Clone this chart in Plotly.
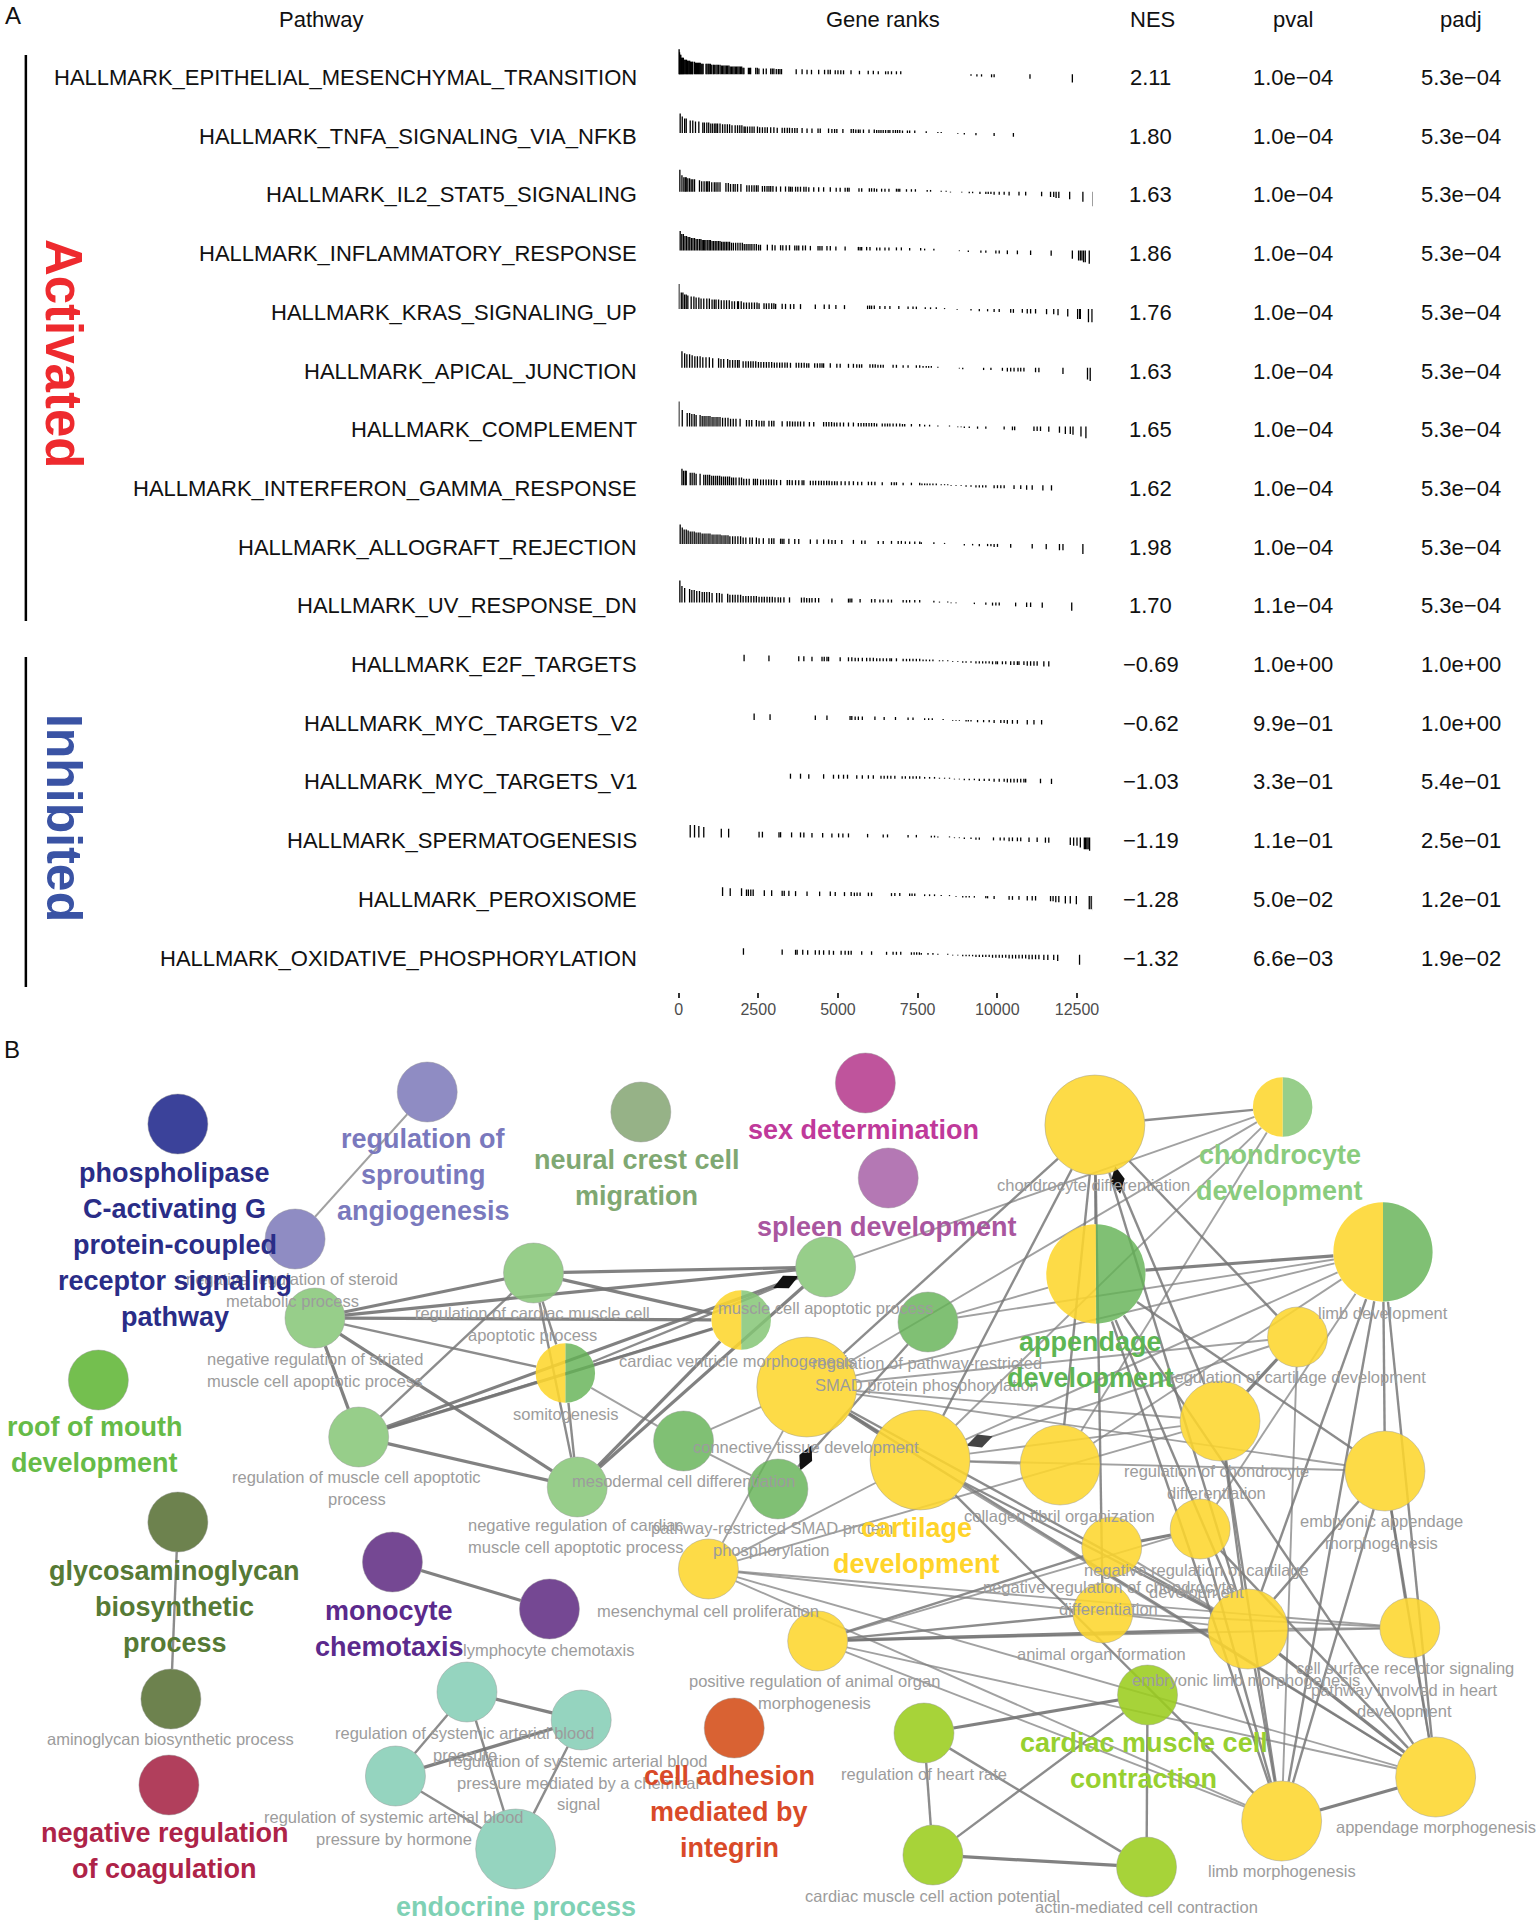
import numpy as np
import plotly.graph_objects as go

# Panel A: pathways and fgsea table values
pathways = ["HALLMARK_EPITHELIAL_MESENCHYMAL_TRANSITION", "HALLMARK_TNFA_SIGNALING_VIA_NFKB",
            "HALLMARK_IL2_STAT5_SIGNALING", "HALLMARK_INFLAMMATORY_RESPONSE", "HALLMARK_KRAS_SIGNALING_UP",
            "HALLMARK_APICAL_JUNCTION", "HALLMARK_COMPLEMENT", "HALLMARK_INTERFERON_GAMMA_RESPONSE",
            "HALLMARK_ALLOGRAFT_REJECTION", "HALLMARK_UV_RESPONSE_DN", "HALLMARK_E2F_TARGETS",
            "HALLMARK_MYC_TARGETS_V2", "HALLMARK_MYC_TARGETS_V1", "HALLMARK_SPERMATOGENESIS",
            "HALLMARK_PEROXISOME", "HALLMARK_OXIDATIVE_PHOSPHORYLATION"]
nes = ["2.11", "1.80", "1.63", "1.86", "1.76", "1.63", "1.65", "1.62", "1.98", "1.70",
       "−0.69", "−0.62", "−1.03", "−1.19", "−1.28", "−1.32"]
pval = ["1.0e−04"] * 9 + ["1.1e−04", "1.0e+00", "9.9e−01", "3.3e−01", "1.1e−01", "5.0e−02", "6.6e−03"]
padj = ["5.3e−04"] * 10 + ["1.0e+00", "1.0e+00", "5.4e−01", "2.5e−01", "1.2e−01", "1.9e−02"]

# Shared ranking statistic, read as steps: rank upper limit -> stat
stat_rank = [15, 40, 80, 150, 250, 350, 500, 700, 1000, 1300, 1600, 2000, 2500, 3000, 3500, 4000, 4800, 5500,
             6200, 7000, 7600, 8100, 8500, 8900, 9300, 9800, 10300, 10900, 11400, 11800, 12100, 12300, 12500,
             12700, 12850, 13000, 13100]
stat_value = [1.0, .88, .78, .66, .58, .54, .5, .46, .42, .38, .35, .31, .26, .23, .21, .2, .18, .16,
              .14, .12, .1, .07, .04, -.03, -.06, -.09, -.12, -.15, -.18, -.21, -.25, -.3, -.33,
              -.4, -.47, -.53, -.58]

# Gene positions in the ranked list, one list per pathway
ranks_emt = [0, 15, 30, 50, 70, 90, 110, 130, 150, 175, 200, 225, 250, 275, 300, 325, 350, 375, 400, 430, 445, 500, 530,
             560, 590, 620, 650, 680, 710, 740, 770, 860, 890, 930, 960, 1000, 1040, 1090, 1120, 1170, 1210, 1250, 1300,
             1340, 1380, 1420, 1460, 1500, 1540, 1580, 1620, 1660, 1700, 1740, 1780, 1820, 1860, 1900, 1940, 1980, 2020,
             2050, 2190, 2230, 2260, 2420, 2470, 2520, 2660, 2750, 2890, 2940, 2990, 3065, 3130, 3180, 3230, 3690, 3875,
             4030, 4170, 4395, 4580, 4690, 4760, 4915, 5000, 5090, 5175, 5410, 5675, 5950, 6110, 6265, 6495, 6575, 6680,
             6835, 6970, 9175, 9360, 9505, 9820, 9900, 11025, 12355]
ranks_tnfa = [50, 115, 190, 240, 365, 445, 530, 635, 760, 810, 885, 945, 1010, 1070, 1135, 1175, 1225, 1300, 1380, 1455,
              1530, 1600, 1675, 1775, 1850, 1920, 1985, 2055, 2090, 2160, 2235, 2305, 2370, 2475, 2545, 2630, 2710, 2785,
              2890, 2990, 3095, 3250, 3325, 3410, 3480, 3565, 3645, 3720, 3875, 4030, 4185, 4375, 4445, 4705, 4810, 4895,
              4965, 5155, 5415, 5485, 5560, 5640, 5695, 5800, 5975, 6140, 6215, 6285, 6350, 6420, 6495, 6575, 6630, 6730,
              6805, 6870, 6940, 7025, 7180, 7250, 7410, 7770, 8135, 8240, 8760, 8965, 9330, 9900, 10505]
ranks_il2 = [40, 105, 165, 210, 240, 290, 345, 395, 445, 500, 655, 725, 800, 870, 915, 965, 1040, 1120, 1175, 1235, 1300,
             1485, 1560, 1630, 1715, 1775, 1850, 1955, 2140, 2215, 2295, 2370, 2440, 2495, 2630, 2700, 2775, 2835, 2890,
             2960, 3065, 3200, 3355, 3460, 3510, 3565, 3670, 3740, 3825, 3930, 4000, 4085, 4240, 4395, 4550, 4760, 4945,
             5070, 5225, 5300, 5350, 5660, 5745, 5985, 6055, 6140, 6215, 6370, 6475, 6600, 6835, 6890, 6940, 7150, 7305,
             7430, 7800, 7905, 8240, 8395, 8530, 8885, 9120, 9225, 9455, 9640, 9715, 9800, 9900, 10060, 10215, 10370,
             10680, 10890, 11390, 11670, 11770, 11845, 11930, 12270, 12685, 13010]
ranks_inflam = [50, 100, 150, 200, 250, 300, 350, 400, 450, 500, 550, 600, 655, 700, 740, 780, 820, 860, 915, 960, 1000,
                1050, 1100, 1150, 1200, 1250, 1300, 1350, 1400, 1450, 1500, 1550, 1600, 1660, 1720, 1790, 1860, 1930,
                2000, 2060, 2120, 2180, 2240, 2300, 2370, 2440, 2510, 2570, 2785, 2940, 3025, 3200, 3270, 3375, 3480,
                3645, 3710, 3770, 3895, 3980, 4135, 4375, 4435, 4500, 4655, 4760, 4935, 5225, 5640, 5695, 5745, 5900,
                6005, 6215, 6315, 6475, 6600, 6835, 6990, 7250, 7595, 7720, 8010, 8810, 9090, 9485, 9640, 9955, 10060,
                10315, 10630, 11045, 11690, 12355, 12550, 12605, 12655, 12705, 12760, 12885]
ranks_kras = [10, 85, 135, 190, 240, 290, 395, 480, 550, 635, 705, 790, 885, 965, 1050, 1120, 1175, 1255, 1340, 1425,
              1505, 1590, 1675, 1755, 1850, 1880, 1965, 2045, 2130, 2215, 2295, 2380, 2460, 2525, 2680, 2755, 2835, 2920,
              2990, 3045, 3250, 3355, 3510, 3615, 3825, 4290, 4570, 4725, 4935, 5205, 5930, 5995, 6055, 6140, 6315, 6475,
              6630, 6910, 7200, 7355, 7460, 7740, 7905, 8085, 8345, 8740, 9175, 9435, 9695, 9900, 10060, 10420, 10505,
              10785, 10940, 11045, 11200, 11545, 11770, 11905, 12210, 12520, 12585, 12605, 12860, 12970]
ranks_apical = [105, 190, 260, 345, 425, 510, 590, 675, 760, 860, 965, 1070, 1255, 1330, 1415, 1540, 1610, 1695, 1775,
                1850, 1900, 2025, 2110, 2190, 2265, 2340, 2420, 2505, 2585, 2670, 2755, 2835, 2920, 3005, 3085, 3170,
                3250, 3335, 3410, 3510, 3690, 3770, 3855, 3940, 4020, 4085, 4270, 4355, 4435, 4500, 4550, 4760, 4965,
                5070, 5330, 5485, 5590, 5675, 5745, 6005, 6090, 6170, 6255, 6340, 6420, 6730, 6835, 7045, 7200, 7460,
                7565, 7670, 7770, 7845, 7930, 8135, 8810, 8915, 9570, 9800, 10160, 10315, 10420, 10525, 10650, 10735,
                10835, 11200, 11305, 12060, 12830, 12915]
ranks_complement = [10, 115, 270, 345, 415, 490, 550, 675, 740, 800, 860, 925, 985, 1050, 1110, 1175, 1235, 1300, 1380,
                    1465, 1550, 1630, 1715, 1800, 1930, 2130, 2215, 2295, 2440, 2525, 2610, 2680, 2835, 2920, 2990, 3250,
                    3410, 3490, 3575, 3655, 3740, 3825, 3930, 4105, 4240, 4550, 4635, 4715, 4800, 4885, 4965, 5070, 5175,
                    5330, 5485, 5640, 5725, 5810, 5890, 5975, 6055, 6140, 6215, 6390, 6475, 6555, 6630, 6730, 6835, 6940,
                    7025, 7095, 7305, 7565, 7720, 7875, 8135, 8500, 8760, 8865, 8965, 9120, 9380, 9640, 10215, 10475,
                    10545, 11150, 11250, 11355, 11615, 11950, 12135, 12290, 12375, 12625, 12780]
ranks_ifng = [105, 155, 210, 240, 365, 425, 490, 550, 675, 790, 850, 915, 975, 1040, 1100, 1165, 1225, 1290, 1350, 1415,
              1475, 1540, 1600, 1665, 1725, 1800, 1900, 1975, 2045, 2130, 2215, 2350, 2410, 2475, 2575, 2660, 2745, 2825,
              2910, 2990, 3075, 3200, 3410, 3480, 3565, 3670, 3770, 3875, 3930, 4135, 4220, 4300, 4395, 4480, 4560, 4645,
              4725, 4810, 4895, 4975, 5100, 5225, 5350, 5485, 5620, 5745, 5955, 6055, 6160, 6390, 6680, 6765, 6835, 7045,
              7305, 7565, 7635, 7720, 7800, 7885, 7980, 8085, 8240, 8345, 8445, 8550, 8705, 8865, 9020, 9175, 9330, 9435,
              9540, 9640, 9900, 10005, 10110, 10215, 10525, 10735, 10920, 11095, 11430, 11700]
ranks_allograft = [50, 115, 175, 240, 300, 365, 425, 490, 550, 615, 675, 740, 800, 860, 925, 985, 1050, 1110, 1175, 1235,
                   1300, 1360, 1425, 1485, 1550, 1610, 1695, 1775, 1860, 1945, 2025, 2110, 2235, 2315, 2440, 2525, 2660,
                   2835, 2920, 2990, 3200, 3250, 3305, 3460, 3645, 3770, 4135, 4345, 4550, 4705, 4810, 4915, 5120, 5485,
                   5745, 5850, 6265, 6420, 6680, 6890, 6990, 7115, 7250, 7410, 7565, 7615, 8010, 8345, 8965, 9225, 9435,
                   9695, 9800, 9900, 10005, 10420, 11095, 11535, 11950, 12060, 12685]
ranks_uv = [40, 105, 190, 345, 415, 490, 570, 655, 740, 810, 885, 965, 1050, 1195, 1280, 1360, 1540, 1610, 1695, 1775,
            1860, 1945, 2025, 2110, 2190, 2275, 2360, 2440, 2525, 2610, 2690, 2775, 2855, 2940, 3025, 3125, 3200, 3305,
            3480, 3855, 3940, 4020, 4105, 4185, 4290, 4395, 4810, 5330, 5380, 5435, 5695, 6055, 6160, 6315, 6420, 6575,
            6680, 7045, 7150, 7250, 7410, 7565, 8010, 8185, 8445, 8550, 8705, 9280, 9640, 9850, 9955, 10060, 10575,
            10920, 11045, 11410, 12335]
ranks_e2f = [2055, 2835, 3770, 3930, 4185, 4500, 4570, 4655, 4705, 5070, 5330, 5435, 5540, 5640, 5765, 5900, 6005, 6110,
             6215, 6315, 6420, 6525, 6630, 6680, 6835, 7045, 7150, 7250, 7355, 7460, 7565, 7670, 7770, 7875, 7980, 8185,
             8290, 8445, 8600, 8760, 8915, 9020, 9175, 9330, 9435, 9540, 9640, 9745, 9850, 9955, 10005, 10160, 10265,
             10420, 10525, 10630, 10680, 10835, 10940, 11045, 11150, 11250, 11460, 11615]
ranks_mycv2 = [2370, 2870, 4290, 4655, 5380, 5435, 5540, 5640, 5765, 6160, 6450, 6805, 7200, 7355, 7720, 7845, 7960,
               8300, 8600, 8705, 8810, 9020, 9090, 9175, 9380, 9570, 9745, 9900, 10110, 10215, 10315, 10475, 10630,
               10940, 11150, 11390]
ranks_mycv1 = [3510, 3825, 4085, 4550, 4860, 5020, 5175, 5300, 5590, 5765, 5955, 6110, 6350, 6450, 6555, 6660, 6785,
               7015, 7115, 7250, 7355, 7460, 7565, 7720, 7875, 8030, 8185, 8345, 8500, 8655, 8810, 8965, 9120, 9280,
               9435, 9590, 9745, 9900, 10060, 10215, 10315, 10420, 10525, 10630, 10735, 10835, 10890, 11355, 11700]
ranks_sperm = [365, 500, 635, 790, 1340, 1570, 2525, 2630, 3150, 3200, 3545, 3825, 3930, 4185, 4520, 4810, 5020, 5155,
               5330, 5930, 6420, 6555, 7200, 7460, 7930, 8030, 8135, 8500, 8655, 8810, 8965, 9175, 9330, 9435, 9880,
               10090, 10215, 10370, 10475, 10630, 10735, 10995, 11250, 11510, 11615, 12290, 12395, 12500, 12605, 12730,
               12770, 12810, 12850, 12895]
ranks_perox = [1380, 1620, 1975, 2130, 2190, 2265, 2340, 2690, 2920, 3250, 3315, 3460, 3670, 4030, 4425, 4760, 4915,
               5205, 5415, 5515, 5600, 5695, 5955, 6055, 6680, 6785, 6940, 7250, 7325, 7410, 7720, 7875, 8030, 8240,
               8500, 8705, 8915, 9020, 9120, 9280, 9640, 9695, 9900, 10370, 10475, 10680, 10940, 11095, 11200, 11670,
               11750, 11835, 11930, 12135, 12290, 12480, 12885, 12945, 13020]
ranks_oxphos = [2035, 3250, 3670, 3720, 3895, 4050, 4290, 4415, 4550, 4725, 4860, 5100, 5225, 5330, 5415, 5745, 6055,
                6525, 6730, 6835, 6970, 7305, 7390, 7470, 7555, 7615, 7825, 7980, 8135, 8445, 8600, 8760, 8915, 9020,
                9120, 9225, 9330, 9435, 9540, 9640, 9745, 9850, 9955, 10060, 10160, 10265, 10370, 10475, 10575, 10680,
                10785, 10890, 10995, 11095, 11200, 11305, 11460, 11585, 11770, 11895, 12580]
gene_ranks = [ranks_emt, ranks_tnfa, ranks_il2, ranks_inflam, ranks_kras, ranks_apical, ranks_complement, ranks_ifng,
              ranks_allograft, ranks_uv, ranks_e2f, ranks_mycv2, ranks_mycv1, ranks_sperm, ranks_perox, ranks_oxphos]
rank_ticks = [0, 2500, 5000, 7500, 10000, 12500]

# Panel B: network nodes
node_names = ["phospho", "sprout1", "sprout2", "neural", "roof", "sex", "spleen", "striated", "cardiac_apop", "muscle_apop",
              "reg_muscle", "neg_cardiac", "connective_g", "mesoderm", "pathway", "chond_diff", "reg_cart", "connective",
              "cartilage", "collagen", "reg_chond", "embryonic", "neg_cart", "neg_chond", "animal", "limb_morph2", "csr", "pos_reg",
              "mesench", "app_morph", "limb_morph", "cmc", "heart_rate", "action", "actin", "glyco", "amino", "coag",
              "monocyte", "lymphocyte", "teal1", "teal2", "teal3", "teal4", "adhesion"]
node_x = [175, 426, 293, 641, 95, 867, 890, 313, 533, 827, 357, 577, 684, 779, 930, 1098, 1302, 808, 922, 1063, 1224,
          1390, 1204, 1115, 1106, 1252, 1415, 819, 709, 1441, 1286, 1151, 926, 935, 1150, 175, 168, 166, 391, 549, 466, 581,
          394, 515, 735]
node_y = [1124, 1092, 1239, 1112, 1380, 1083, 1178, 1318, 1273, 1267, 1437, 1487, 1441, 1489, 1322, 1125, 1337, 1387,
          1460, 1465, 1421, 1471, 1529, 1547, 1613, 1629, 1628, 1641, 1569, 1777, 1821, 1695, 1733, 1855, 1867, 1522, 1699,
          1785, 1562, 1609, 1692, 1720, 1776, 1849, 1728]
node_size = [60, 60, 60, 60, 60, 60, 60, 60, 60, 60, 60, 60, 60, 60, 60, 100, 60, 100, 100, 80, 80, 80, 60, 60, 60, 80,
             60, 60, 60, 80, 80, 60, 60, 60, 60, 60, 60, 60, 60, 60, 60, 60, 60, 80, 60]
yellow = "rgba(253,214,45,0.88)"
lgreen = "rgba(133,198,118,0.85)"
green = "rgba(100,178,85,0.82)"
lime = "rgba(155,205,30,0.88)"
teal = "rgba(130,205,180,0.85)"
node_color = ["#3b429a", "#8f8cc3", "#8f8cc3", "#96b287", "#74bf4f", "#bf549c", "#b478b4", lgreen, lgreen, lgreen, lgreen,
              lgreen, green, green, green, yellow, yellow, yellow, yellow, yellow, yellow, yellow, yellow, yellow,
              yellow, yellow, yellow, yellow, yellow, yellow, yellow, lime, lime, lime, lime, "#6d824e", "#6d824e", "#b13f5c",
              "#754893", "#754893", teal, teal, teal, teal, "#d96233"]

# Half and half nodes: name, x, y, size, right colour
half_names = ["ventricle", "somito", "chond_dev", "app_dev", "limb_dev"]
half_x = [742, 565, 1287, 1099, 1388]
half_y = [1320, 1373, 1107, 1274, 1252]
half_size = [60, 60, 60, 100, 100]
half_color = [lgreen, green, lgreen, green, green]

edges_thick = [("monocyte", "lymphocyte"), ("striated", "muscle_apop"), ("striated", "ventricle"), ("striated", "cardiac_apop"),
               ("cardiac_apop", "muscle_apop"), ("reg_muscle", "ventricle"), ("reg_muscle", "muscle_apop"), ("reg_muscle", "neg_cardiac"),
               ("striated", "reg_muscle"), ("striated", "neg_cardiac"), ("cardiac_apop", "ventricle"), ("neg_cardiac", "ventricle"),
               ("neg_cardiac", "muscle_apop"), ("app_dev", "limb_dev"), ("neg_chond", "neg_cart"), ("limb_morph", "app_morph"),
               ("pos_reg", "limb_morph2"), ("heart_rate", "cmc"), ("action", "actin"), ("teal1", "teal2"), ("teal3", "teal2"),
               ("connective", "cartilage"), ("reg_cart", "reg_chond"), ("limb_morph2", "app_morph")]
edges_mid = [("chond_diff", "chond_dev"), ("chond_diff", "app_dev"), ("chond_diff", "reg_cart"), ("chond_diff", "limb_morph2"),
             ("chond_diff", "cartilage"), ("chond_diff", "connective"), ("chond_diff", "collagen"), ("chond_diff", "animal"),
             ("chond_diff", "reg_chond"), ("app_dev", "embryonic"), ("app_dev", "limb_morph2"), ("app_dev", "limb_morph"),
             ("app_dev", "app_morph"), ("limb_dev", "embryonic"), ("limb_dev", "limb_morph"), ("limb_dev", "app_morph"),
             ("limb_dev", "limb_morph2"), ("embryonic", "limb_morph"), ("embryonic", "app_morph"), ("embryonic", "csr"),
             ("embryonic", "limb_morph2"), ("neg_cart", "limb_morph"), ("neg_cart", "app_morph"), ("limb_morph2", "limb_morph"),
             ("reg_chond", "limb_morph2"), ("reg_chond", "limb_morph"), ("connective", "limb_morph2"), ("connective", "app_morph"),
             ("cartilage", "limb_morph2"), ("cartilage", "limb_morph"), ("pos_reg", "neg_chond"), ("pos_reg", "animal"),
             ("heart_rate", "actin"), ("heart_rate", "action"), ("cmc", "action"), ("cmc", "actin"), ("teal1", "teal3"),
             ("teal1", "teal4"), ("teal2", "teal4"), ("teal3", "teal4"), ("glyco", "amino"), ("somito", "neg_cardiac"),
             ("somito", "muscle_apop"), ("somito", "cardiac_apop"), ("reg_muscle", "somito"), ("striated", "somito"),
             ("cardiac_apop", "reg_muscle"), ("cardiac_apop", "neg_cardiac"), ("pathway", "mesoderm")]
edges_thin = [("sprout1", "sprout2"), ("muscle_apop", "chond_dev"), ("connective", "chond_dev"), ("cartilage", "chond_dev"),
              ("collagen", "chond_dev"), ("pathway", "app_dev"), ("pathway", "limb_dev"), ("connective", "limb_dev"),
              ("collagen", "limb_dev"), ("cartilage", "limb_dev"), ("connective", "reg_cart"), ("cartilage", "reg_cart"),
              ("connective", "reg_chond"), ("cartilage", "reg_chond"), ("connective", "embryonic"), ("cartilage", "embryonic"),
              ("cartilage", "collagen"), ("mesench", "connective"), ("mesench", "cartilage"), ("mesench", "reg_chond"),
              ("mesench", "limb_morph2"), ("mesench", "csr"), ("mesench", "app_morph"), ("mesench", "limb_morph"),
              ("pos_reg", "csr"), ("pos_reg", "app_morph"), ("pos_reg", "limb_morph"), ("pos_reg", "neg_cart"),
              ("limb_morph2", "csr"), ("animal", "csr"), ("csr", "app_morph"), ("connective_g", "somito"),
              ("connective_g", "mesoderm"), ("connective_g", "connective"), ("cartilage", "app_morph"),
              ("somito", "ventricle"), ("neg_chond", "limb_morph2"), ("reg_cart", "limb_morph"), ("limb_dev", "neg_cart")]

# Small black arrow heads seen on some edges
arrow_x = [787, 1121, 982, 807]
arrow_y = [1282, 1180, 1441, 1458]
arrow_angle = [65, 170, 70, 25]
arrow_color = ["#111111", "#111111", "#444444", "#111111"]

# Grey term labels: text, centre x, first line y
term_text = ["negative regulation of steroid\nmetabolic process", "regulation of cardiac muscle cell\napoptotic process",
             "negative regulation of striated\nmuscle cell apoptotic process", "somitogenesis", "muscle cell apoptotic process",
             "cardiac ventricle morphogenesis", "regulation of pathway-restricted\nSMAD protein phosphorylation",
             "connective tissue development", "mesodermal cell differentiation",
             "negative regulation of cardiac\nmuscle cell apoptotic process", "regulation of muscle cell apoptotic\nprocess",
             "pathway-restricted SMAD protein\nphosphorylation", "chondrocyte differentiation", "limb development",
             "regulation of cartilage development", "regulation of chondrocyte\ndifferentiation", "collagen fibril organization",
             "embryonic appendage\nmorphogenesis", "negative regulation of cartilage\ndevelopment",
             "negative regulation of chondrocyte\ndifferentiation", "animal organ formation", "embryonic limb morphogenesis",
             "cell surface receptor signaling\npathway involved in heart\ndevelopment",
             "positive regulation of animal organ\nmorphogenesis", "regulation of heart rate", "appendage morphogenesis",
             "limb morphogenesis", "cardiac muscle cell action potential", "actin-mediated cell contraction",
             "mesenchymal cell proliferation", "lymphocyte chemotaxis", "aminoglycan biosynthetic process",
             "regulation of systemic arterial blood\npressure",
             "regulation of systemic arterial blood\npressure mediated by a chemical\nsignal",
             "regulation of systemic arterial blood\npressure by hormone"]
term_x = [290, 532, 313, 565, 827, 738, 929, 807, 684, 576, 355, 773, 1097, 1388, 1302, 1220, 1062, 1386, 1200, 1112, 1105,
          1250, 1410, 816, 926, 1441, 1286, 935, 1150, 709, 549, 168, 464, 578, 393]
term_y = [1279, 1313, 1359, 1414, 1308, 1361, 1363, 1447, 1481, 1525, 1477, 1528, 1185, 1313, 1377, 1471, 1516, 1521, 1570,
          1587, 1654, 1680, 1668, 1681, 1774, 1827, 1871, 1896, 1907, 1611, 1650, 1739, 1733, 1761, 1817]

# Bold cluster titles
title_text = ["phospholipase\nC-activating G\nprotein-coupled\nreceptor signaling\npathway", "regulation of\nsprouting\nangiogenesis",
              "neural crest cell\nmigration", "roof of mouth\ndevelopment", "sex determination", "spleen development",
              "chondrocyte\ndevelopment", "appendage\ndevelopment", "cartilage\ndevelopment",
              "glycosaminoglycan\nbiosynthetic\nprocess", "monocyte\nchemotaxis", "cell adhesion\nmediated by\nintegrin",
              "negative regulation\nof coagulation", "endocrine process", "cardiac muscle cell\ncontraction"]
title_x = [172, 422, 637, 91, 865, 889, 1284, 1094, 918, 172, 388, 730, 162, 515, 1147]
title_y = [1173, 1139, 1160, 1427, 1130, 1227, 1155, 1342, 1528, 1571, 1611, 1776, 1833, 1907, 1743]
title_color = ["#2a2d87", "#7a79bd", "#7fa872", "#66bb47", "#c0399a", "#a9569f", "#8acc7e", "#5db653", "#ffd42a", "#567a35",
               "#5b2a8c", "#d94a28", "#ae2348", "#7fd1b5", "#97d030"]

W, H = 1540, 1920
fig = go.Figure()


def add_text(x, y, text, size, color="#111111", anchor="center", weight="normal", angle=0, family="Liberation Sans"):
    fig.add_annotation(x=x, y=y, xref="x", yref="y", text=text, showarrow=False, xanchor=anchor, yanchor="middle",
                       textangle=angle, borderpad=0, font=dict(family=family, size=size, color=color, weight=weight))


# Edges under the nodes, stopped at the node rim
pos = dict(zip(node_names + half_names, zip(node_x + half_x, node_y + half_y, node_size + half_size)))
for edges, width, color in [(edges_thin, 1.9, "rgba(130,130,130,0.75)"), (edges_mid, 2.4, "rgba(120,120,120,0.85)"),
                            (edges_thick, 3.2, "rgba(115,115,115,0.9)")]:
    ex, ey = [], []
    for a, b in edges:
        ax, ay, ad = pos[a]
        bx, by, bd = pos[b]
        length = np.hypot(bx - ax, by - ay)
        ux, uy = (bx - ax) / length, (by - ay) / length
        ex += [ax + ux * ad / 2, bx - ux * bd / 2, None]
        ey += [ay + uy * ad / 2, by - uy * bd / 2, None]
    fig.add_trace(go.Scatter(x=ex, y=ey, mode="lines", line=dict(color=color, width=width), hoverinfo="skip", showlegend=False))

fig.add_trace(go.Scatter(x=arrow_x, y=arrow_y, mode="markers", hoverinfo="skip", showlegend=False,
                         marker=dict(symbol="diamond-tall", size=20, color=arrow_color, angle=arrow_angle, opacity=1)))

fig.add_trace(go.Scatter(x=node_x, y=node_y, mode="markers", hoverinfo="skip", showlegend=False,
                         marker=dict(size=node_size, color=node_color, opacity=1,
                                     line=dict(color="rgba(150,150,150,0.45)", width=1))))

# Half coloured nodes are small two slice pies
for cx, cy, d, c in zip(half_x, half_y, half_size, half_color):
    fig.add_trace(go.Pie(values=[1, 1], sort=False, direction="clockwise", rotation=0, textinfo="none", hoverinfo="skip",
                         showlegend=False, marker=dict(colors=[c, yellow], line=dict(width=0)),
                         domain=dict(x=[(cx - d / 2) / W, (cx + d / 2) / W], y=[1 - (cy + d / 2) / H, 1 - (cy - d / 2) / H])))

# Gene rank bars, one trace per pathway
unit = 25 / 58.7
for i, ranks in enumerate(gene_ranks):
    stat = np.array(stat_value)[np.searchsorted(stat_rank, ranks)]
    bx, by = [], []
    for r, s in zip(ranks, stat):
        bx += [r, r, None]
        by += [i, i - s * unit, None]
    fig.add_trace(go.Scatter(x=bx, y=by, xaxis="x2", yaxis="y2", mode="lines", hoverinfo="skip", showlegend=False,
                             line=dict(color="black", width=1.3)))

# Table text
row_step, row_top = 58.7, 77.5
for i, name in enumerate(pathways):
    row_y = row_top + i * row_step
    add_text(638.5, row_y, name, 22, anchor="right")
    add_text(1154, row_y, nes[i], 22)
    add_text(1297, row_y, pval[i], 22)
    add_text(1467, row_y, padj[i], 22)

for x, head in zip([319, 885, 1156, 1297, 1467], ["Pathway", "Gene ranks", "NES", "pval", "padj"]):
    add_text(x, 19, head, 22)
add_text(9, 15, "A", 24)
add_text(8, 1049, "B", 24)
add_text(60.5, 354, "Activated", 51, color="#ee2a2e", weight="bold", angle=90)
add_text(60.5, 818, "Inhibited", 50, color="#3a53a4", weight="bold", angle=90)

for text, x, y in zip(term_text, term_x, term_y):
    for k, line in enumerate(text.split("\n")):
        add_text(x, y + k * 21.7, line, 16.5, color="#9c9c9c")
for text, x, y, color in zip(title_text, title_x, title_y, title_color):
    for k, line in enumerate(text.split("\n")):
        add_text(x, y + k * 36, line, 27, color=color, weight="bold")

# Bars next to the Activated and Inhibited groups
fig.add_shape(type="line", x0=22, x1=22, y0=55, y1=621, xref="x", yref="y", line=dict(color="black", width=2.5))
fig.add_shape(type="line", x0=22, x1=22, y0=657, y1=987, xref="x", yref="y", line=dict(color="black", width=2.5))

fig.update_layout(
    width=W, height=H, margin=dict(l=0, r=0, t=0, b=0), paper_bgcolor="white", plot_bgcolor="rgba(0,0,0,0)", showlegend=False,
    xaxis=dict(range=[0, W], domain=[0, 1], visible=False, fixedrange=True),
    yaxis=dict(range=[H, 0], domain=[0, 1], visible=False, fixedrange=True),
    xaxis2=dict(range=[0, 13000], domain=[679 / W, (679 + 13000 * 0.03208) / W], anchor="y2", tickvals=rank_ticks,
                tickformat="d", ticks="outside", ticklen=5, tickwidth=1.5, tickcolor="#333333", showgrid=False, zeroline=False,
                showline=False, ticklabelstandoff=-2,
                tickfont=dict(family="Liberation Sans", size=16, color="#4d4d4d"), fixedrange=True),
    yaxis2=dict(range=[(992 - 74.3) / 58.7, -74.3 / 58.7], domain=[1 - 992 / H, 1], anchor="x2", visible=False, fixedrange=True),
)

# Body margin off and page cut to the figure size
page_js = "document.body.style.margin='0';document.body.style.height='1920px';document.body.style.overflow='hidden';" \
          "document.documentElement.style.overflow='hidden';"
fig.write_html("out.html", config={"displayModeBar": False}, post_script=page_js)
